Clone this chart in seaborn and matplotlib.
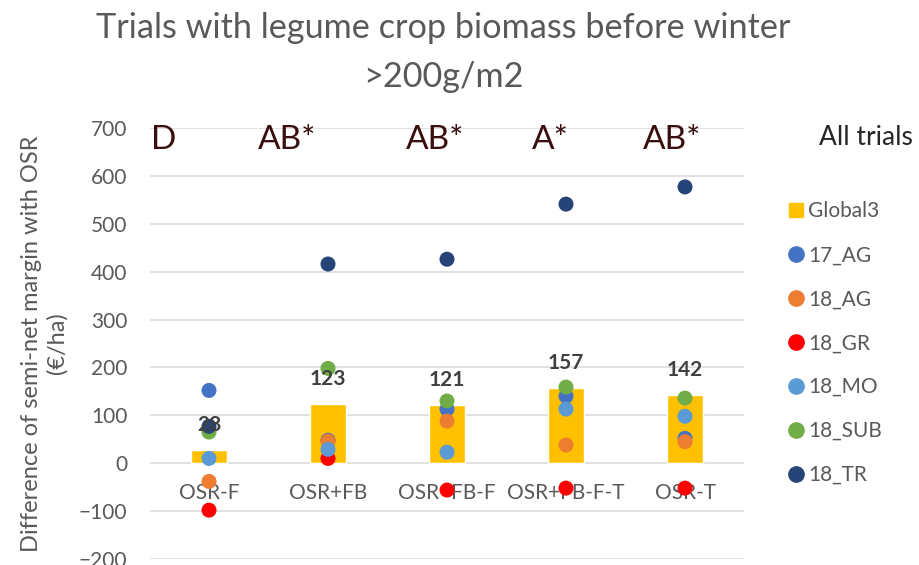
import matplotlib
matplotlib.use("Agg")  # headless
import matplotlib.pyplot as plt
from matplotlib.lines import Line2D
import pandas as pd
import seaborn as sns

# values
CATEGORIES = ["OSR-F", "OSR+FB", "OSR+FB-F", "OSR+FB-F-T", "OSR-T"]
GLOBAL3 = [28, 123, 121, 157, 142]
TRIALS = ["17_AG", "18_AG", "18_GR", "18_MO", "18_SUB", "18_TR"]
AG17 = [152, 48, 113, 140, 52]
AG18 = [-38, 46, 88, 38, 45]
GR18 = [-98, 10, -56, -52, -52]
MO18 = [10, 29, 23, 113, 98]
SUB18 = [65, 198, 130, 159, 136]
TR18 = [77, 416, 426, 541, 577]
GROUP_LETTERS = ["D", "AB*", "AB*", "A*", "AB*"]

TRIAL_COLORS = ["#4472C4", "#ED7D31", "#FF0000", "#5B9BD5", "#70AD47", "#264478"]
BAR_COLOR = "#FFC000"
GREY = "#595959"


def main():
    sns.set_theme(style="white")
    plt.rcParams["font.family"] = ["Lato", "DejaVu Sans"]

    rows = []
    for trial, vals in zip(TRIALS, [AG17, AG18, GR18, MO18, SUB18, TR18]):
        for cat, v in zip(CATEGORIES, vals):
            rows.append({"treatment": cat, "trial": trial, "value": v})
    df = pd.DataFrame(rows)

    fig = plt.figure(figsize=(9.2, 5.65), dpi=100)
    ax = fig.add_axes([149.5 / 920, 1 - 559 / 565, 595 / 920, 431 / 565])

    sns.barplot(x=CATEGORIES, y=GLOBAL3, order=CATEGORIES, color=BAR_COLOR,
                saturation=1, width=0.31, ax=ax, zorder=2)
    sns.stripplot(data=df, x="treatment", y="value", hue="trial", order=CATEGORIES,
                  hue_order=TRIALS, palette=TRIAL_COLORS, jitter=False, dodge=False,
                  size=10.8, linewidth=0, legend=False, ax=ax, zorder=3)

    ax.set_xlim(-0.5, len(CATEGORIES) - 0.5)
    ax.set_ylim(-200, 700)
    ax.set_yticks(range(-200, 701, 100))
    ax.yaxis.grid(True, color="#d9d9d9", lw=1.1)
    ax.set_axisbelow(True)
    for side in ["left", "right", "top"]:
        ax.spines[side].set_visible(False)
    # category labels sit just under the zero line, like in Excel
    ax.spines["bottom"].set_position(("data", 0))
    ax.spines["bottom"].set_visible(False)
    ax.tick_params(axis="x", length=0, pad=14, labelsize=15, labelcolor=GREY)
    ax.tick_params(axis="y", length=0, pad=16, labelsize=15, labelcolor=GREY)
    ax.set_xlabel("")
    ax.set_ylabel("Difference of semi-net margin with OSR\n(€/ha)", fontsize=17,
                  color=GREY, labelpad=8, linespacing=1.25)

    # bar value labels
    for i, v in enumerate(GLOBAL3):
        ax.annotate(str(v), (i, v), xytext=(0, 18), textcoords="offset points",
                    ha="center", va="center", fontsize=15, fontweight="bold",
                    color="#404040", zorder=4)

    # significance letters
    letter_shift = [-0.38, -0.34, -0.10, -0.13, -0.11]
    for i, (txt, dx) in enumerate(zip(GROUP_LETTERS, letter_shift)):
        ax.text(i + dx, 675, txt, ha="center", va="center", fontsize=24,
                color="#3A0E0E")

    fig.suptitle("Trials with legume crop biomass before winter\n>200g/m2",
                 x=443 / 920, y=1 - 12 / 565, va="top", fontsize=24.7, color=GREY,
                 linespacing=1.67)

    handles = [Line2D([], [], marker="s", ls="", color=BAR_COLOR, markersize=9.5)]
    handles += [Line2D([], [], marker="o", ls="", color=c, markersize=11)
                for c in TRIAL_COLORS]
    fig.legend(handles, ["Global3"] + TRIALS, loc="upper left",
               bbox_to_anchor=(776 / 920, 1 - 193 / 565), frameon=False,
               fontsize=15, labelcolor=GREY, labelspacing=1.15,
               handletextpad=0.05, handlelength=1.1, borderaxespad=0)
    fig.text(819 / 920, 1 - 137 / 565, "All trials", ha="left", va="center",
             fontsize=19, color="#262626")

    fig.savefig("out.png", dpi=100)
    plt.close(fig)


if __name__ == "__main__":
    main()
